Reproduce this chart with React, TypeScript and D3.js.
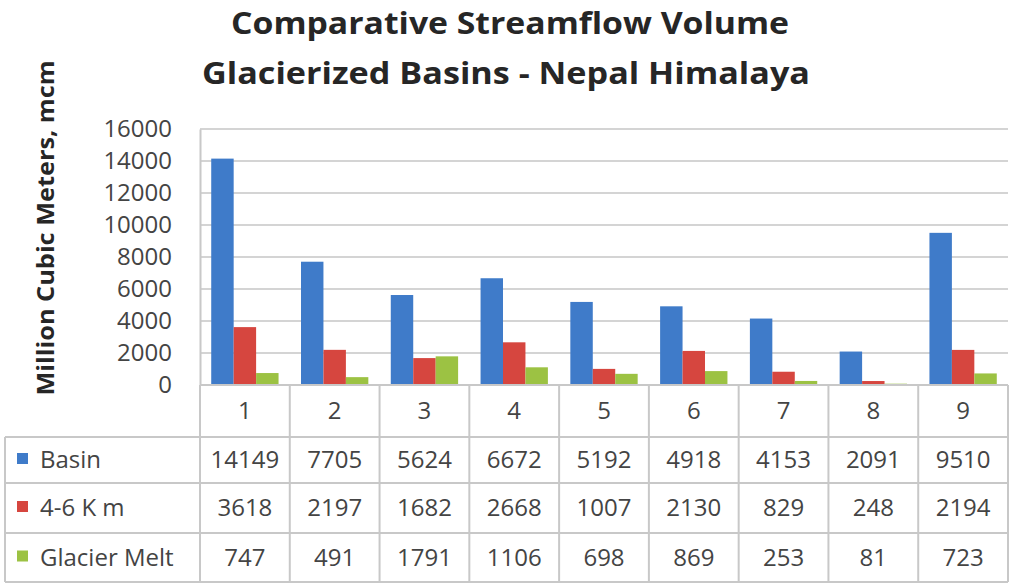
import React, { useRef, useEffect } from 'react';
import * as d3 from 'd3';

const categories = ['1', '2', '3', '4', '5', '6', '7', '8', '9'];
const seriesNames = ['Basin', '4-6 K m', 'Glacier Melt'];
const basin = [14149, 7705, 5624, 6672, 5192, 4918, 4153, 2091, 9510];
const band46 = [3618, 2197, 1682, 2668, 1007, 2130, 829, 248, 2194];
const glacierMelt = [747, 491, 1791, 1106, 698, 869, 253, 81, 723];
const yTicks = [0, 2000, 4000, 6000, 8000, 10000, 12000, 14000, 16000];
const colors = ['#3f7bc9', '#d6463f', '#9cc243'];

const App = () => {
  const svgRef = useRef<SVGSVGElement>(null);
  const width = 1013;
  const height = 584;

  useEffect(() => {
    const svg = d3.select(svgRef.current);
    svg.selectAll('*').remove();

    const left = 200;
    const right = 1008;
    const top = 129;
    const bottom = 385;
    const font = "'Open Sans', sans-serif";
    const series = [basin, band46, glacierMelt];

    const x = d3.scaleBand().domain(categories).range([left, right]).paddingInner(0).paddingOuter(0);
    const xInner = d3.scaleBand().domain(seriesNames).range([0, x.bandwidth()]).paddingInner(0).paddingOuter(0.5);
    const y = d3.scaleLinear().domain([0, 16000]).range([bottom, top]);

    // title
    const title = svg.append('g').attr('font-family', font).attr('font-weight', 700).attr('fill', '#262626');
    title.append('text').attr('x', 510).attr('y', 34).attr('text-anchor', 'middle').attr('font-size', 30)
      .attr('textLength', 558).attr('lengthAdjust', 'spacingAndGlyphs').text('Comparative Streamflow Volume');
    title.append('text').attr('x', 506).attr('y', 84).attr('text-anchor', 'middle').attr('font-size', 30)
      .attr('textLength', 608).attr('lengthAdjust', 'spacingAndGlyphs').text('Glacierized Basins - Nepal Himalaya');

    // y label
    svg.append('text')
      .attr('transform', `translate(54, 228) rotate(-90)`)
      .attr('text-anchor', 'middle')
      .attr('font-family', font).attr('font-weight', 700).attr('font-size', 23)
      .attr('fill', '#262626')
      .attr('textLength', 335).attr('lengthAdjust', 'spacingAndGlyphs')
      .text('Million Cubic Meters, mcm');

    // gridlines
    svg.append('g').selectAll('line').data(yTicks.filter(d => d > 0)).join('line')
      .attr('x1', left).attr('x2', right)
      .attr('y1', d => y(d)).attr('y2', d => y(d))
      .attr('stroke', '#d4d4d4').attr('stroke-width', 2);

    // y axis
    const yAxis = svg.append('g').attr('transform', `translate(${left},0)`)
      .call(d3.axisLeft(y).tickValues(yTicks).tickSize(0).tickPadding(28).tickFormat(d => String(d)));
    yAxis.select('.domain').attr('stroke', '#c8c8c8').attr('stroke-width', 2);
    yAxis.selectAll('text').attr('font-family', font).attr('font-size', 24).attr('fill', '#444');

    // bars
    series.forEach((vals, si) => {
      svg.append('g').selectAll('rect').data(vals).join('rect')
        .attr('x', (d, i) => x(categories[i])! + xInner(seriesNames[si])!)
        .attr('y', d => y(d))
        .attr('width', xInner.bandwidth())
        .attr('height', d => bottom - y(d))
        .attr('fill', colors[si]);
    });

    // data table
    const rowTops = [385, 437, 483, 533, 582];
    const grid = svg.append('g').attr('stroke', '#c8c8c8').attr('stroke-width', 2);
    grid.append('line').attr('x1', left).attr('x2', right).attr('y1', bottom).attr('y2', bottom);
    rowTops.slice(1).forEach(ry => {
      grid.append('line').attr('x1', 5).attr('x2', right).attr('y1', ry).attr('y2', ry);
    });
    grid.append('line').attr('x1', 5).attr('x2', 5).attr('y1', 437).attr('y2', 582);
    categories.concat(['end']).forEach((c, i) => {
      const vx = left + i * x.bandwidth();
      grid.append('line').attr('x1', vx).attr('x2', vx).attr('y1', bottom).attr('y2', 582);
    });

    const tableText = svg.append('g').attr('font-family', font).attr('font-size', 24).attr('fill', '#444');
    tableText.selectAll('text.cat').data(categories).join('text').attr('class', 'cat')
      .attr('x', d => x(d)! + x.bandwidth() / 2).attr('y', 419)
      .attr('text-anchor', 'middle').text(d => d);

    series.forEach((vals, si) => {
      const cy = (rowTops[si + 1] + rowTops[si + 2]) / 2 + 8;
      tableText.append('rect').attr('x', 17).attr('y', cy - 15).attr('width', 11).attr('height', 11).attr('fill', colors[si]);
      tableText.append('text').attr('x', 40).attr('y', cy).text(seriesNames[si]);
      tableText.selectAll(`text.v${si}`).data(vals).join('text').attr('class', `v${si}`)
        .attr('x', (d, i) => x(categories[i])! + x.bandwidth() / 2).attr('y', cy)
        .attr('text-anchor', 'middle').text(d => String(d));
    });
  }, []);

  return <svg ref={svgRef} width={width} height={height} style={{ position: 'absolute', left: 0, top: 0, background: '#fff' }}></svg>;
};

export default App;
